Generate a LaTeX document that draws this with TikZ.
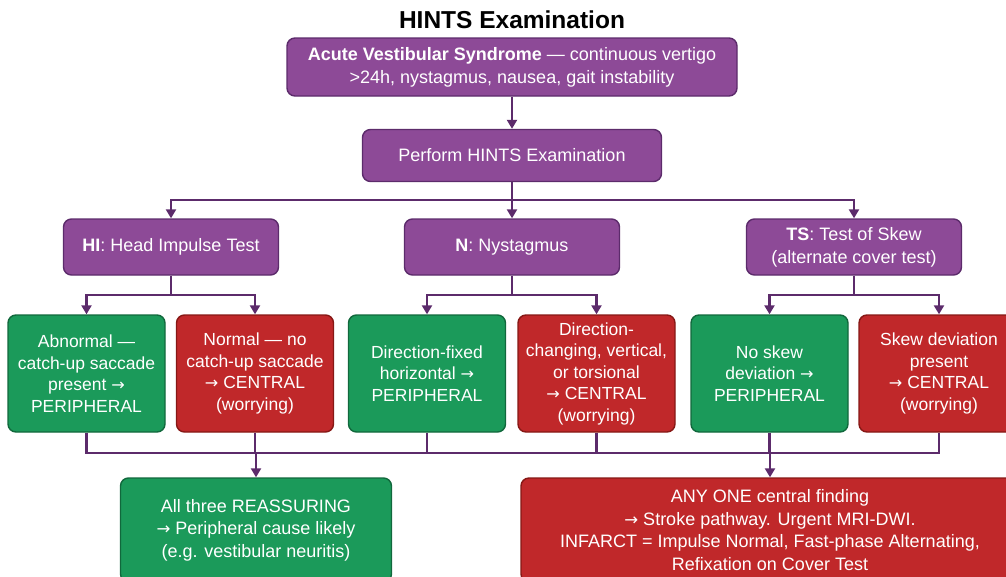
\documentclass[tikz,border=0pt]{standalone}
\usepackage{fontspec}
\setmainfont{Liberation Sans}
\newfontfamily\arrowfont{DejaVu Sans}[Scale=0.92]
\newcommand\ra{{\arrowfont →}}
\usetikzlibrary{arrows.meta}
\definecolor{hpurple}{HTML}{8D4A97}
\definecolor{hpurpleline}{HTML}{5C2B6B}
\definecolor{hgreen}{HTML}{1B9A5A}
\definecolor{hgreenline}{HTML}{11683C}
\definecolor{hred}{HTML}{C0282A}
\definecolor{hredline}{HTML}{861815}

\begin{document}
\begin{tikzpicture}[x=1pt,y=-1pt,
  box/.style={rounded corners=8pt,line width=1.4pt,text=white,align=center,inner sep=0pt},
  stepbox/.style={box,draw=hpurpleline,fill=hpurple,font=\fontsize{18}{23}\selectfont},
  periph/.style={box,draw=hgreenline,fill=hgreen,minimum width=157pt,minimum height=117pt,font=\fontsize{17.5}{21.5}\selectfont},
  central/.style={box,draw=hredline,fill=hred,minimum width=157pt,minimum height=117pt,font=\fontsize{17.5}{21.5}\selectfont},
  outcome/.style={minimum height=104pt,font=\fontsize{18}{22.5}\selectfont},
  link/.style={draw=hpurpleline,line width=2.5pt},
  arr/.style={link,-{Triangle[width=10pt,length=9pt]}}]
\useasboundingbox (0,0) rectangle (1006,576);
\clip (0,0) rectangle (1006,576);

\node[font=\bfseries\fontsize{24.5}{28}\selectfont] (title) at (512,20) {HINTS Examination};
\node[stepbox,minimum width=450pt,minimum height=58pt] (avs) at (512,67) {\textbf{Acute Vestibular Syndrome} — continuous vertigo\\>24h, nystagmus, nausea, gait instability};
\node[stepbox,minimum width=299pt,minimum height=52pt] (perform) at (512,155.5) {Perform HINTS Examination};

\node[stepbox,minimum width=215pt,minimum height=56pt] (hi) at (171,247) {\textbf{HI}: Head Impulse Test};
\node[stepbox,minimum width=215pt,minimum height=56pt] (n) at (512,247) {\textbf{N}: Nystagmus};
\node[stepbox,minimum width=215pt,minimum height=56pt] (ts) at (854,247) {\textbf{TS}: Test of Skew\\(alternate cover test)};

\node[periph] (hi1) at (86.5,373.5) {Abnormal —\\catch-up saccade\\present \ra\\PERIPHERAL};
\node[central] (hi2) at (255,373.5) {Normal — no\\catch-up saccade\\\ra{} CENTRAL\\(worrying)};
\node[periph] (n1) at (427,373.5) {Direction-fixed\\horizontal \ra\\PERIPHERAL};
\node[central] (n2) at (596.5,373.5) {Direction-\\changing, vertical,\\or torsional\\\ra{} CENTRAL\\(worrying)};
\node[periph] (ts1) at (769.5,373.5) {No skew\\deviation \ra\\PERIPHERAL};
\node[central,minimum width=160pt] (ts2) at (939,373.5) {Skew deviation\\present\\\ra{} CENTRAL\\(worrying)};

\node[periph,outcome,minimum width=271pt] (calm) at (256,530) {All three REASSURING\\\ra{} Peripheral cause likely\\(e.g. vestibular neuritis)};
\node[central,outcome,minimum width=498pt] (alarm) at (770,530) {ANY ONE central finding\\\ra{} Stroke pathway. Urgent MRI-DWI.\\INFARCT = Impulse Normal, Fast-phase Alternating,\\Refixation on Cover Test};

\coordinate (split) at (512,200);
\coordinate (hisplit) at (171,295);
\coordinate (nsplit) at (512,295);
\coordinate (tssplit) at (854,295);
\coordinate (merge) at (512,453);

\draw[arr] (avs) -- (perform);
\draw[link] (perform) -- (split);
\draw[arr] (split) -| (hi);
\draw[arr] (split) -- (n);
\draw[arr] (split) -| (ts);

\draw[link] (hi) -- (hisplit);
\draw[arr] (hisplit) -| (hi1);
\draw[arr] (hisplit) -| (hi2);
\draw[link] (n) -- (nsplit);
\draw[arr] (nsplit) -| (n1);
\draw[arr] (nsplit) -| (n2);
\draw[link] (ts) -- (tssplit);
\draw[arr] (tssplit) -| (ts1);
\draw[arr] (tssplit) -| (ts2);

\draw[link] (hi1.south) |- (merge) -| (ts2.south);
\foreach \b in {hi2,n1,n2,ts1}
  \draw[link] (\b.south) -- (\b.south |- merge);
\draw[arr] (calm.north |- merge) -- (calm);
\draw[arr] (alarm.north |- merge) -- (alarm);
\end{tikzpicture}
\end{document}
